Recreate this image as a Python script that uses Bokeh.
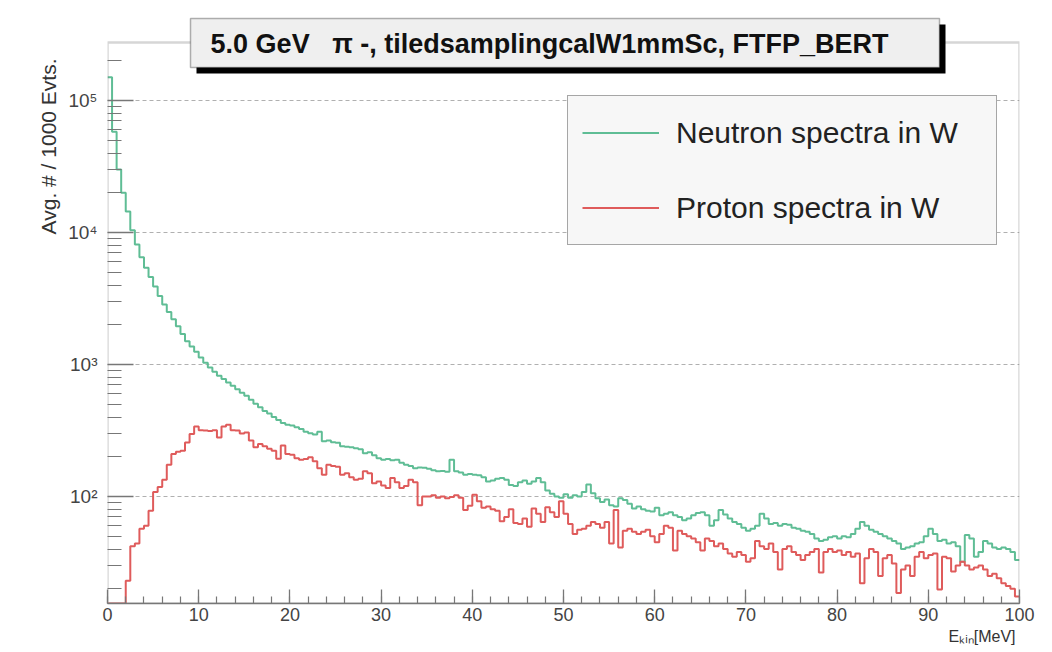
import numpy as np
from bokeh.plotting import figure
from bokeh.models import (Label, Legend, LegendItem, FixedTicker, Range1d, BoxAnnotation, Title)
from bokeh.embed import file_html
from bokeh.resources import INLINE

# ---------------- data ----------------
bin_width_mev = 0.5
n_bins = 200
bin_edges_mev = [i * bin_width_mev for i in range(n_bins + 1)]

neutron_counts = [
    150000, 58000, 30000, 20000, 14400, 10400, 8100, 6500, 5400, 4600,
    3900, 3300, 2850, 2500, 2200, 1950, 1700, 1500, 1370, 1250,
    1130, 1030, 950, 880, 820, 775, 730, 690, 650, 610,
    580, 540, 505, 475, 445, 425, 400, 380, 360, 350,
    345, 335, 325, 310, 302, 295, 310, 262, 265, 258,
    255, 240, 238, 236, 232, 228, 213, 216, 205, 195,
    190, 192, 188, 190, 180, 174, 170, 164, 166, 165,
    162, 158, 155, 156, 154, 190, 155, 152, 146, 148,
    146, 145, 140, 130, 132, 136, 138, 134, 122, 120,
    128, 132, 125, 130, 138, 128, 111, 105, 100, 98,
    104, 98, 102, 100, 108, 123, 106, 97, 91, 95,
    86, 84, 97, 94, 88, 81, 84, 80, 78, 77,
    82, 72, 74, 76, 72, 70, 66, 68, 72, 75,
    76, 72, 60, 66, 79, 73, 68, 64, 62, 58,
    55, 57, 60, 74, 68, 62, 63, 60, 62, 61,
    58, 57, 55, 54, 52, 48, 46, 47, 49, 50,
    48, 50, 49, 52, 57, 64, 60, 56, 54, 52,
    50, 48, 46, 44, 40, 41, 42, 44, 45, 50,
    57, 52, 46, 47, 44, 45, 42, 32, 51, 48,
    35, 38, 46, 44, 41, 40, 41, 40, 38, 33,
]

proton_counts = [
    0, 0, 0, 0, 23, 42, 44, 57, 60, 78,
    108, 118, 134, 174, 210, 218, 222, 257, 298, 339,
    318, 316, 314, 318, 280, 339, 350, 318, 316, 300,
    305, 265, 236, 250, 240, 230, 222, 193, 243, 210,
    207, 195, 190, 192, 198, 185, 164, 146, 174, 170,
    168, 146, 150, 140, 134, 136, 155, 150, 126, 130,
    121, 116, 138, 128, 116, 120, 134, 128, 86, 100,
    100, 102, 98, 100, 97, 99, 102, 98, 79, 85,
    103, 92, 82, 84, 80, 78, 65, 70, 80, 63,
    62, 68, 59, 81, 74, 64, 83, 76, 70, 92,
    74, 62, 52, 56, 57, 60, 64, 62, 58, 64,
    44, 79, 41, 55, 57, 54, 52, 54, 56, 50,
    45, 52, 60, 58, 39, 55, 52, 50, 48, 45,
    39, 48, 46, 42, 44, 40, 37, 35, 38, 36,
    32, 34, 46, 42, 40, 44, 38, 28, 40, 42,
    38, 36, 33, 36, 38, 40, 26.5, 38, 40, 38,
    39, 36, 38, 35, 37, 22, 34, 40, 38, 25,
    34, 36, 31, 18.6, 28, 30, 25, 35, 38, 34,
    36, 37, 19.7, 35, 34, 27, 30, 32, 30, 28,
    29, 30, 28, 25, 26, 24, 22, 21, 20, 17.5,
]

series_labels = ["Neutron spectra in W", "Proton spectra in W"]
title_text = "5.0 GeV\u00a0\u00a0 \u03c0 -, tiledsamplingcalW1mmSc, FTFP_BERT"
y_axis_title = "Avg. # / 1000 Evts."
x_axis_title = "E\u2096\u1d62\u2099[MeV]"

x_major_ticks = [0, 10, 20, 30, 40, 50, 60, 70, 80, 90, 100]
x_minor_ticks = list(range(0, 101, 2))
y_major_ticks = [100, 1000, 10000, 100000]
y_major_labels = ["10\u00b2", "10\u00b3", "10\u2074", "10\u2075"]
y_decades = [10, 100, 1000, 10000, 100000]

X_MIN, X_MAX = 0, 100
Y_MIN, Y_MAX = 15.46, 2.75e5      # visible histogram frame
Y_CANVAS_TOP = 4.33e5             # extra head-room so the title box sits inside the drawing area

# ---------------- figure ----------------
FONT = "Liberation Sans"
GREEN = "#5fbd95"
RED = "#df5b5b"
AXIS_COL = "#777777"

p = figure(width=1052, height=652, y_axis_type="log",
           x_range=Range1d(X_MIN, X_MAX), y_range=Range1d(Y_MIN, Y_CANVAS_TOP),
           output_backend="svg", toolbar_location=None,
           min_border_left=107, min_border_right=33,
           min_border_top=16, min_border_bottom=49)
p.background_fill_color = "white"
p.border_fill_color = "white"
p.outline_line_color = None

# axes
p.xaxis.ticker = FixedTicker(ticks=x_major_ticks, minor_ticks=x_minor_ticks)
y_minor = [m * d for d in y_decades for m in range(2, 10) if m * d <= Y_MAX]
p.yaxis.ticker = FixedTicker(ticks=y_major_ticks, minor_ticks=y_minor)
p.yaxis.major_label_overrides = {float(v): s for v, s in zip(y_major_ticks, y_major_labels)}

for ax in (p.xaxis[0], p.yaxis[0]):
    ax.axis_line_color = AXIS_COL
    ax.axis_line_width = 1.5
    ax.major_tick_line_color = AXIS_COL
    ax.minor_tick_line_color = AXIS_COL
    ax.major_tick_line_width = 1.3
    ax.minor_tick_line_width = 1.2
    ax.major_tick_out = 0
    ax.minor_tick_out = 0
    ax.major_label_text_font = FONT
    ax.major_label_text_font_size = "18px"
    ax.major_label_text_color = "#444444"
p.yaxis.axis_line_color = None
p.yaxis.major_label_text_font_size = "19px"

p.xaxis.major_tick_in = 14
p.xaxis.minor_tick_in = 7
p.xaxis.major_label_standoff = 4
p.yaxis.major_tick_in = 26
p.yaxis.minor_tick_in = 14
p.yaxis.major_label_standoff = 10

p.xgrid.visible = False
p.ygrid.grid_line_color = "#b0b0b0"
p.ygrid.grid_line_dash = "4 3"
p.ygrid.grid_line_width = 1

# frame of the histogram (data-range box)
p.add_layout(BoxAnnotation(left=X_MIN, right=X_MAX, bottom=Y_MIN, top=Y_MAX,
                           fill_alpha=0, line_color=AXIS_COL, line_width=2.5))

# histograms as steps
edges = np.array(bin_edges_mev)
n_y = np.append(np.array(neutron_counts, dtype=float), neutron_counts[-1])
p_vals = np.maximum(np.array(proton_counts, dtype=float), Y_MIN)
p_y = np.append(p_vals, p_vals[-1])

rn = p.step(edges, n_y, mode="after", line_color=GREEN, line_width=2)
rp = p.step(edges, p_y, mode="after", line_color=RED, line_width=2)

# legend
legend = Legend(items=[LegendItem(label=series_labels[0], renderers=[rn]),
                       LegendItem(label=series_labels[1], renderers=[rp])],
                location=(460, 358))
legend.label_text_font = FONT
legend.label_text_font_size = "30px"
legend.label_text_color = "#222222"
legend.glyph_width = 77
legend.glyph_height = 45
legend.label_height = 45
legend.spacing = 30
legend.padding = 14
legend.label_standoff = 17
legend.label_width = 306
legend.margin = 0
legend.border_line_color = "#555555"
legend.border_line_width = 1.5
legend.background_fill_color = "#f7f7f7"
legend.background_fill_alpha = 1.0
p.add_layout(legend)

# title box with shadow (screen units relative to the frame's bottom-left)
shadow = BoxAnnotation(left=89, right=838, top=579, bottom=530,
                       left_units="screen", right_units="screen",
                       top_units="screen", bottom_units="screen",
                       fill_color="black", fill_alpha=1.0, line_color=None)
box = BoxAnnotation(left=83, right=832, top=585, bottom=536,
                    left_units="screen", right_units="screen",
                    top_units="screen", bottom_units="screen",
                    fill_color="#efefef", fill_alpha=1.0,
                    line_color="black", line_width=1.5)
p.add_layout(shadow)
p.add_layout(box)
p.add_layout(Label(x=442, y=560, x_units="screen", y_units="screen",
                   text=title_text, text_align="center", text_baseline="middle",
                   text_font=FONT, text_font_size="27px", text_font_style="bold",
                   text_color="#111111"))

# axis titles
yt = Title(text=y_axis_title, align="right", offset=42, standoff=11,
           text_font=FONT, text_font_size="21px", text_font_style="normal",
           text_color="#333333")
p.add_layout(yt, "left")
xt = Title(text=x_axis_title, align="right", offset=4, standoff=5,
           text_font=FONT, text_font_size="16px", text_font_style="normal",
           text_color="#333333")
p.add_layout(xt, "below")

open("out.html", "w").write(file_html(p, INLINE))
